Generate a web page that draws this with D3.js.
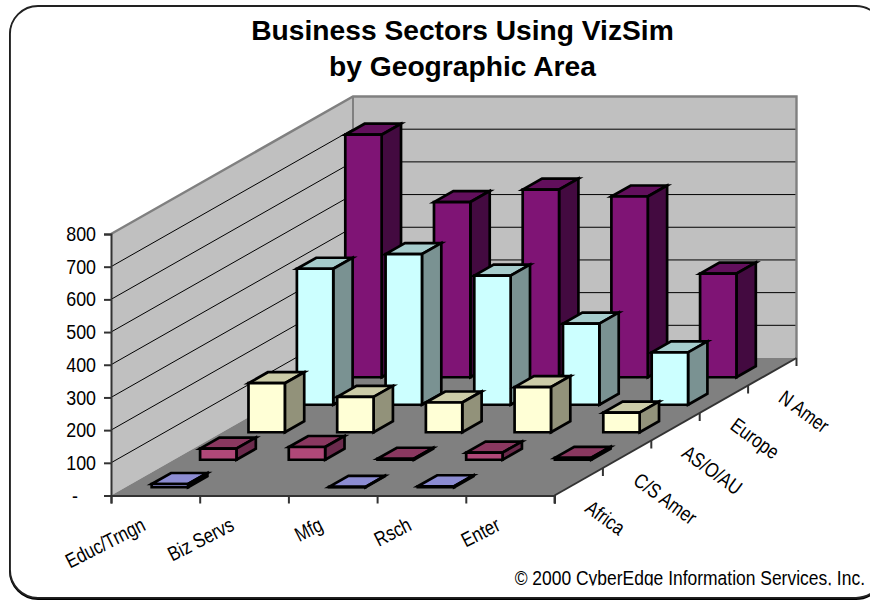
<!DOCTYPE html>
<html><head><meta charset="utf-8">
<script src="https://d3js.org/d3.v7.min.js"></script>
<style>html,body{margin:0;padding:0;background:#fff}svg{display:block}text{font-family:"Liberation Sans",Arial,sans-serif;fill:#000}</style>
</head><body><svg id="c" width="870" height="601"></svg>
<script>
const categories = ["Educ/Trngn","Biz Servs","Mfg","Rsch","Enter"];
const regions = ["Africa","C/S Amer","AS/O/AU","Europe","N Amer"];
const africa = [10,0,1,3,0];
const csAmer = [34,39,3,22,6];
const asOAu = [150,108,91,138,60];
const europe = [416,461,395,248,160];
const nAmer = [742,536,574,553,317];
const seriesValues = [africa,csAmer,asOAu,europe,nAmer];
const valueTicks = [0,100,200,300,400,500,600,700,800];
const frontColors = ["#8c8cd2","#b04878","#ffffd6","#ccffff","#7f1475"];
const topColors = ["#8c8cd2","#8a3860","#cccca8","#a6cccc","#620f5c"];
const sideColors = ["#7070a8","#6b2a4c","#92927a","#7a9292","#430a40"];

const svg = d3.select("#c");
// oblique projection: x category units, d depth units, v value
const xS = d3.scaleLinear().domain([0,5]).range([111,554.5]);
const dxS = d3.scaleLinear().domain([0,5]).range([0,242]);
const dyS = d3.scaleLinear().domain([0,5]).range([0,-137.5]);
const yS = d3.scaleLinear().domain([0,800]).range([495.5,234]);
const P = (c,d,v)=>[xS(c)+dxS(d), yS(v)+dyS(d)];
const poly = pts => "M"+pts.map(p=>p.join(",")).join("L")+"Z";

// frame
svg.append("rect").attr("x",10).attr("y",7.2).attr("width",874).attr("height",591.8).attr("rx",28).attr("ry",28)
  .attr("fill","#000").attr("stroke","#000").attr("stroke-width",2);
svg.append("rect").attr("x",10).attr("y",6).attr("width",874).attr("height",591.8).attr("rx",28).attr("ry",28)
  .attr("fill","#fff").attr("stroke","#222").attr("stroke-width",1.8);

// walls and floor
svg.append("path").attr("d",poly([P(0,0,0),P(0,0,800),P(0,5,800),P(0,5,0)])).attr("fill","#c0c0c0");
svg.append("path").attr("d",poly([P(0,5,0),P(0,5,800),P(5,5,800),P(5,5,0)])).attr("fill","#c0c0c0");
svg.append("path").attr("d",poly([P(0,0,0),P(5,0,0),P(5,5,0),P(0,5,0)])).attr("fill","#808080");
// gridlines
const line = d3.line();
valueTicks.slice(1,-1).forEach(v=>{
  svg.append("path").attr("d",line([P(0,0,v),P(0,5,v),P(5,5,v)])).attr("fill","none").attr("stroke","#000").attr("stroke-width",1);
});
// wall outline
svg.append("path").attr("d",line([P(0,0,800),P(0,5,800),P(5,5,800),P(5,5,0)])).attr("fill","none").attr("stroke","#808080").attr("stroke-width",2.4);
svg.append("path").attr("d",line([P(0,5,800),P(0,5,0)])).attr("fill","none").attr("stroke","#808080").attr("stroke-width",2);

// bars: back row first
const barW = 0.41, pad = (1-barW)/2, barD = 0.4, dPad = 0.3;
d3.range(4,-1,-1).forEach(r=>{
  categories.forEach((cat,c)=>{
    const v = seriesValues[r][c];
    if(!v) return;
    const x0=c+pad,x1=x0+barW,d0=r+dPad,d1=d0+barD;
    const g = svg.append("g").attr("stroke","#000").attr("stroke-width",2.7).attr("stroke-linejoin","miter");
    g.append("path").attr("d",poly([P(x0,d0,v),P(x1,d0,v),P(x1,d1,v),P(x0,d1,v)])).attr("fill",topColors[r]);
    g.append("path").attr("d",poly([P(x1,d0,0),P(x1,d1,0),P(x1,d1,v),P(x1,d0,v)])).attr("fill",sideColors[r]);
    g.append("path").attr("d",poly([P(x0,d0,0),P(x1,d0,0),P(x1,d0,v),P(x0,d0,v)])).attr("fill",frontColors[r]);
  });
});

// value axis
const labelSize = 20.5, yScaleX = 0.87, rotScaleX = 0.82;
const yAxis = d3.axisLeft(yS).tickValues(valueTicks).tickSize(7).tickPadding(8).tickFormat(v=>v===0?"-":String(v));
const ya = svg.append("g").attr("transform","translate(111,0)").call(yAxis);
ya.selectAll("path,line").attr("stroke","#333").attr("stroke-width",2);
ya.selectAll("text").style("font-size",labelSize+"px").attr("fill","#000")
  .attr("transform",`scale(${yScaleX},1)`)
  .attr("x",d=>(d===0?-33:-15)/yScaleX);
// category axis
const xAxis = d3.axisBottom(xS).tickValues(d3.range(0,6)).tickSize(8).tickFormat("");
const xa = svg.append("g").attr("transform","translate(0,495.5)").call(xAxis);
xa.selectAll("path,line").attr("stroke","#333").attr("stroke-width",2);
// depth axis
svg.append("path").attr("d",line([P(5,0,0),P(5,5,0)])).attr("stroke","#333").attr("stroke-width",2).attr("fill","none");
d3.range(0,6).forEach(d=>{const p=P(5,d,0);svg.append("line").attr("x1",p[0]).attr("x2",p[0]).attr("y1",p[1]).attr("y2",p[1]+8).attr("stroke","#333").attr("stroke-width",2);});

// category labels
categories.forEach((t,c)=>{
  const p=P(c+0.5,0,0);
  svg.append("text").text(t).attr("text-anchor","end").attr("font-size",labelSize)
    .attr("transform",`translate(${p[0]-8.5},${p[1]+34}) rotate(-27) scale(${rotScaleX},1)`);
});
regions.forEach((t,d)=>{
  const p=P(5,d+0.5,0);
  svg.append("text").text(t).attr("text-anchor","start").attr("font-size",labelSize)
    .attr("transform",`translate(${p[0]+5},${p[1]+29}) rotate(36) scale(${rotScaleX},1)`);
});

// title
svg.append("text").text("Business Sectors Using VizSim").attr("x",462.5).attr("y",40).attr("text-anchor","middle").attr("font-size",28.2).attr("font-weight","bold");
svg.append("text").text("by Geographic Area").attr("x",462.5).attr("y",75.5).attr("text-anchor","middle").attr("font-size",28.2).attr("font-weight","bold");

// footer (clipped as in the source image)
svg.append("clipPath").attr("id","fc").append("rect").attr("x",500).attr("y",565).attr("width",370).attr("height",20.5);
svg.append("g").attr("clip-path","url(#fc)").append("text").text("© 2000 CyberEdge Information Services, Inc.")
  .attr("text-anchor","end").attr("font-size",19.5)
  .attr("transform","translate(865,585) scale(0.895,1)");
</script></body></html>
